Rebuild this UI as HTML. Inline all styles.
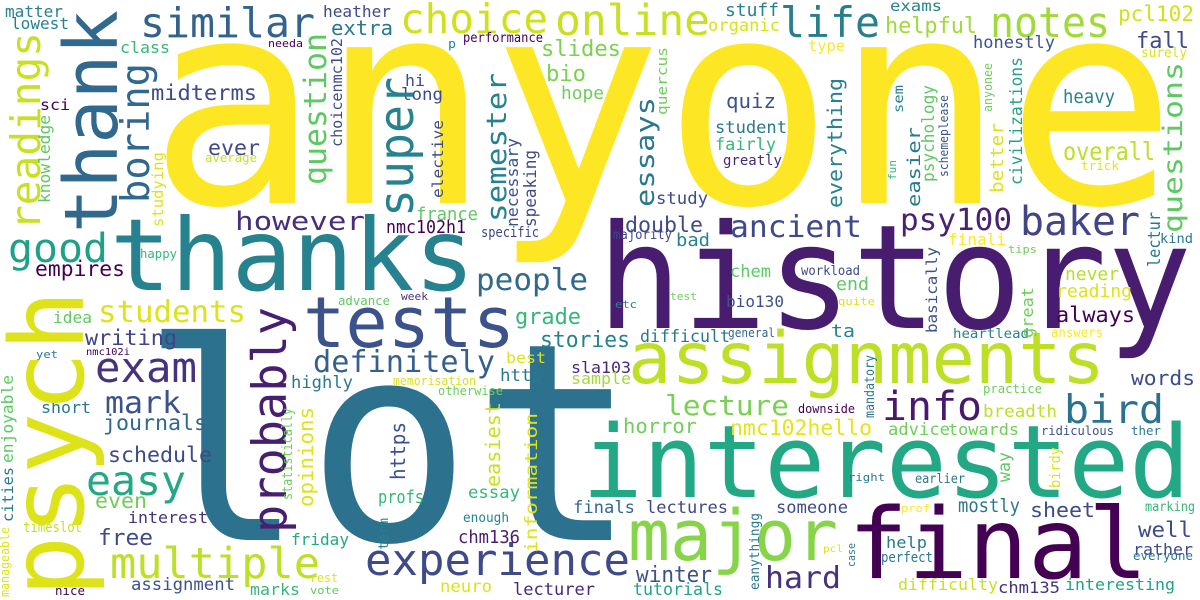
<!DOCTYPE html>
<html><head><meta charset="utf-8"><title>Word cloud</title>
<style>
html,body{margin:0;padding:0;background:#fff;}
#wc{display:block;width:1200px;height:600px;}
#wc text{font-family:"DejaVu Sans Mono","Liberation Mono",monospace;}
</style></head>
<body>
<svg id="wc" xmlns="http://www.w3.org/2000/svg" width="1200" height="600" viewBox="0 0 1200 600">
<rect width="1200" height="600" fill="#ffffff"/>
<g id="words"></g>
</svg>
<script>
// horizontal words: [text, x, baseline, fontSize, textLength, color]
const horizontalWords = [
["anyone",148,203,285,1029,"#fde725"],["lot",140,540,276,498,"#2c718e"],["history",597,328,145,595,"#481c6e"],
["interested",582,497,101,608,"#22a884"],["thanks",110,290,100,365,"#26828e"],["tests",303,347,70,212,"#3b528b"],
["assignments",628,383,71,477,"#bddf26"],["major",628,560,70,210,"#86d549"],["final",848,578,98,300,"#440154"],
["experience",365,575,44,265,"#3e4a89"],["multiple",110,578,43,210,"#bddf26"],["exam",95,382,42,102,"#46327e"],
["easy",86,495,41,100,"#22a884"],["info",882,420,40,100,"#481a6c"],["bird",1064,423,39,100,"#2c728e"],
["baker",1020,235,40,120,"#414487"],["life",780,37,42,100,"#277f8e"],["online",555,35,43,155,"#c8e020"],
["choice",400,33,41,148,"#d0e11c"],["similar",140,37,41,175,"#33638d"],["notes",990,37,42,120,"#a0da39"],
["good",8,262,40,100,"#1fa188"],["however",235,230,26,130,"#472f7d"],["ancient",730,237,30,132,"#3e4a89"],
["psy100",900,230,30,112,"#482173"],["people",476,290,30,112,"#31688e"],["students",98,322,30,148,"#dde318"],
["definitely",313,372,30,182,"#355f8d"],["mark",105,413,30,76,"#3b528b"],["lecture",665,415,28,124,"#7ad151"],
["nmc102hello",730,435,21,142,"#e5e419"],["hard",765,588,30,76,"#46327e"],["always",1056,322,21,79,"#440154"],
["overall",1063,160,25,92,"#bddf26"],["heavy",1063,103,19,52,"#26828e"],["fall",1136,48,22,53,"#3e4a89"],
["pcl102",1118,21,21,76,"#d0e11c"],["honestly",973,48,17,82,"#3b528b"],["extra",331,35,20,62,"#2a788e"],
["heather",323,17,16,68,"#3e4a89"],["midterms",151,100,21,106,"#3e4a89"],["helpful",885,33,22,92,"#a0da39"],
["stuff",725,16,18,54,"#26828e"],["organic",708,31,17,72,"#d8e219"],["exams",890,11,15,52,"#26828e"],
["slides",541,56,22,80,"#7ad151"],["bio",546,81,22,40,"#7ad151"],["hope",561,99,18,43,"#6ece58"],
["quiz",726,108,20,50,"#3b528b"],["student",715,133,17,72,"#2a788e"],["fairly",715,150,17,61,"#35b779"],
["greatly",723,165,14,59,"#482878"],["type",808,51,15,37,"#fde725"],["double",625,232,21,78,"#3e4a89"],
["chem",730,277,17,41,"#5ec962"],["test",670,300,11,27,"#6ece58"],["bio130",726,307,16,58,"#3b528b"],
["week",401,300,11,27,"#46327e"],["grade",515,324,22,66,"#35b779"],["stories",540,347,22,90,"#26828e"],
["difficult",640,342,17,90,"#2a788e"],["general",728,337,12,47,"#31688e"],["etc",615,308,11,22,"#26828e"],
["best",506,363,15,40,"#dde318"],["http",500,381,17,42,"#2a788e"],["sla103",571,373,16,60,"#482878"],
["sample",571,384,16,60,"#a0da39"],["memorisation",393,385,12,83,"#d8e219"],["otherwise",438,395,12,65,"#6ece58"],
["horror",623,433,20,74,"#6ece58"],["essay",468,498,17,52,"#35b779"],["profs",378,503,18,46,"#35b779"],
["finals",573,513,17,62,"#31688e"],["lectures",646,513,17,82,"#404688"],["someone",776,513,17,72,"#3e4a89"],
["enough",463,522,13,46,"#26828e"],["chm136",458,543,18,62,"#481f70"],["winter",636,582,22,76,"#3b528b"],
["neuro",440,592,17,52,"#dde318"],["lecturer",513,595,17,82,"#482878"],["tutorials",633,595,17,90,"#20a386"],
["idea",53,323,16,39,"#5ec962"],["writing",85,345,21,92,"#414487"],["nmc102i",86,355,10,44,"#440154"],
["yet",36,358,11,22,"#2a788e"],["short",41,413,16,50,"#2a788e"],["journals",103,430,21,104,"#31688e"],
["schedule",108,462,21,104,"#3e4a89"],["even",95,508,21,52,"#6ece58"],["interest",128,523,16,80,"#46327e"],
["free",98,545,22,55,"#3e4a89"],["timeslot",23,532,14,59,"#c8e020"],["assignment",131,590,17,104,"#3b528b"],
["marks",250,595,16,50,"#35b779"],["nice",55,595,12,30,"#440154"],["highly",291,388,17,62,"#2a788e"],
["friday",291,545,16,58,"#22a884"],["matter",5,17,16,58,"#26828e"],["lowest",11,29,16,58,"#26828e"],
["class",120,53,16,50,"#35b779"],["needa",268,47,11,35,"#440154"],["sci",40,110,15,30,"#440154"],
["ever",208,155,21,52,"#3e4a89"],["average",205,162,12,52,"#c8e020"],["empires",35,276,21,90,"#440154"],
["happy",140,258,12,37,"#35b779"],["advance",338,305,12,52,"#5ec962"],["p",448,48,12,8,"#26828e"],
["performance",463,42,13,80,"#440154"],["hi",405,86,16,20,"#3e4a89"],["long",401,100,17,42,"#3e4a89"],
["france",416,220,18,62,"#5ec962"],["nmc102h1",386,233,18,80,"#440154"],["specific",481,237,14,58,"#404688"],
["study",656,204,17,52,"#3e4a89"],["majority",613,239,13,59,"#404688"],["bad",676,246,18,34,"#26828e"],
["surely",1141,57,13,46,"#dde318"],["trick",1081,170,12,38,"#e5e419"],["finali",948,245,16,58,"#fde725"],
["kind",1160,243,13,33,"#2a788e"],["tips",1008,253,11,29,"#6ece58"],["workload",801,275,13,59,"#3e4a89"],
["never",1065,280,18,54,"#b5de2b"],["end",836,290,18,33,"#5ec962"],["reading",1056,297,18,76,"#dde318"],
["quite",838,305,11,37,"#dde318"],["ta",831,337,18,24,"#26828e"],["heartlead",953,338,13,76,"#26828e"],
["answers",1051,337,13,52,"#fde725"],["words",1131,385,20,64,"#3e4a89"],["practice",983,393,12,59,"#6ece58"],
["downside",798,413,12,57,"#440154"],["breadth",983,417,17,74,"#bddf26"],["advice",888,435,17,62,"#6ece58"],
["towards",948,435,16,71,"#6ece58"],["ridiculous",1041,435,12,73,"#3b528b"],["ther",1131,435,12,30,"#2a788e"],
["right",848,481,11,37,"#2a788e"],["earlier",915,483,13,50,"#2a788e"],["mostly",958,512,19,62,"#2a788e"],
["sheet",1030,517,20,65,"#3e4a89"],["prof",901,512,11,29,"#fde725"],["marking",1145,511,13,50,"#35b779"],
["well",1138,537,21,54,"#3e4a89"],["help",886,548,16,41,"#2a788e"],["rather",1133,555,16,60,"#3e4a89"],
["pcl",823,552,10,20,"#dde318"],["perfect",881,562,14,52,"#2a788e"],["everyone",1133,560,12,60,"#2a788e"],
["difficulty",898,590,16,100,"#c8e020"],["chm135",998,593,16,62,"#46327e"],["interesting",1065,590,16,110,"#20a386"],
["rest",310,582,12,28,"#dde318"],["vote",310,594,11,29,"#5ec962"]
];
// vertical words (read bottom to top): [text, baselineX, bottomY, fontSize, textLength, color]
const verticalWords = [
["thank",117,233,74,223,"#31688e"],["psych",83,597,102,307,"#dde318"],["probably",286,533,47,226,"#481f70"],
["readings",40,230,41,198,"#c8e020"],["boring",149,203,39,140,"#31688e"],["knowledge",50,203,16,88,"#5ec962"],
["studying",163,227,15.5,75,"#dde318"],["question",326,185,31,152,"#5ec962"],["choicenmc102",342,147,15,109,"#3e4a89"],
["super",413,217,48,140,"#26828e"],["semester",506,222,28,149,"#26828e"],["essays",654,207,26,110,"#2a788e"],
["quercus",667,115,14,68,"#6ece58"],["elective",443,198,15,78,"#3e4a89"],["necessary",518,227,16,89,"#3b528b"],
["speaking",536,227,17,77,"#3e4a89"],["everything",842,208,20,130,"#26828e"],["sem",903,113,13,28,"#26828e"],
["easier",920,207,18,80,"#2a788e"],["psychology",934,182,17,97,"#5ec962"],["schemeplease",948,177,12,82,"#3b528b"],
["fun",896,180,11,20,"#35b779"],["anyonee",992,112,12,49,"#6ece58"],["better",1003,193,18,70,"#dde318"],
["civilizations",1022,185,17,128,"#20a386"],["questions",1182,233,27,171,"#5ec962"],["lectur",1160,267,17,55,"#2a788e"],
["basically",937,333,15,86,"#3b528b"],["great",1033,338,16,51,"#6ece58"],["information",537,553,17,140,"#dde318"],
["easiest",500,487,20,85,"#c8e020"],["https",405,480,20,58,"#3b528b"],["opinions",313,507,20,100,"#dde318"],
["statistically",292,500,14,92,"#6ece58"],["enjoyable",13,463,16,88,"#5ec962"],["cities",13,522,15,55,"#2a788e"],
["manageable",9,597,12,70,"#dde318"],["mandatory",874,418,13,63,"#2a788e"],["way",1010,482,17,30,"#5ec962"],
["birdy",1060,488,14,41,"#dde318"],["case",855,567,11,24,"#2a788e"],["eanythingg",759,590,13,77,"#2a788e"],
["term",388,550,13,32,"#26828e"]
];
const NS="http://www.w3.org/2000/svg";
const layer=document.getElementById("words");
function slug(s){return s.toLowerCase().replace(/[^a-z0-9]+/g,"-");}
function addWord(row, vertical){
  const t=document.createElementNS(NS,"text");
  t.setAttribute("x",row[1]);
  t.setAttribute("y",row[2]);
  t.setAttribute("font-size",row[3]);
  t.setAttribute("textLength",row[4]);
  t.setAttribute("lengthAdjust","spacingAndGlyphs");
  t.setAttribute("fill",row[5]);
  if(vertical){t.setAttribute("transform","rotate(-90 "+row[1]+" "+row[2]+")");}
  t.textContent=row[0];
  
  
  layer.appendChild(t);
}
horizontalWords.forEach(r=>addWord(r,false));
verticalWords.forEach(r=>addWord(r,true));
</script>
</body></html>
